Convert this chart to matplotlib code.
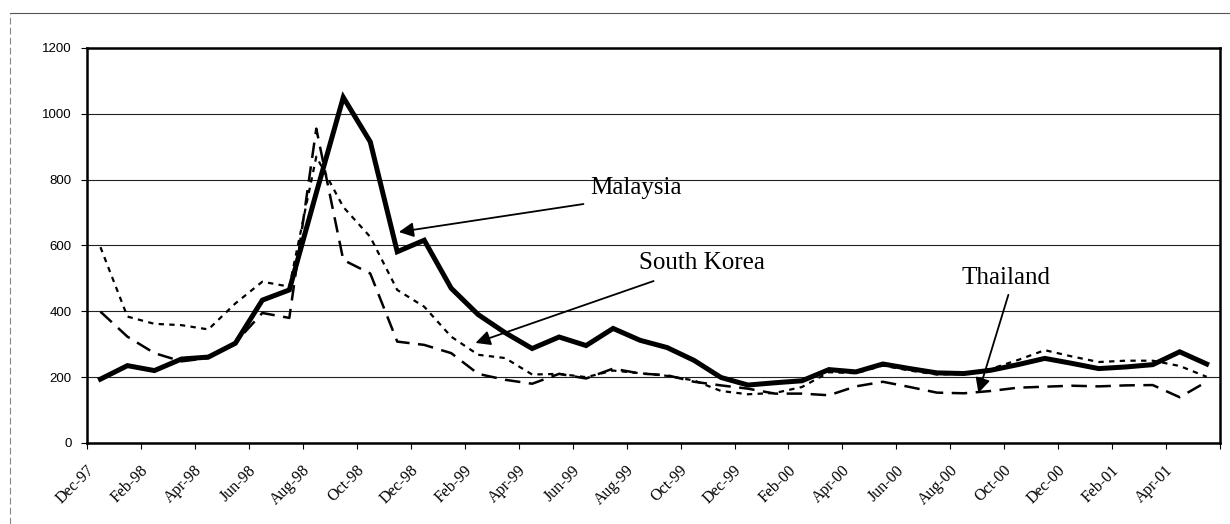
import numpy as np
import matplotlib
matplotlib.use('Agg')
import matplotlib.pyplot as plt
import matplotlib.transforms as mtransforms

# monthly series, Dec-97 .. May-01
months = ['Dec-97', 'Jan-98', 'Feb-98', 'Mar-98', 'Apr-98', 'May-98', 'Jun-98', 'Jul-98',
          'Aug-98', 'Sep-98', 'Oct-98', 'Nov-98', 'Dec-98', 'Jan-99', 'Feb-99', 'Mar-99',
          'Apr-99', 'May-99', 'Jun-99', 'Jul-99', 'Aug-99', 'Sep-99', 'Oct-99', 'Nov-99',
          'Dec-99', 'Jan-00', 'Feb-00', 'Mar-00', 'Apr-00', 'May-00', 'Jun-00', 'Jul-00',
          'Aug-00', 'Sep-00', 'Oct-00', 'Nov-00', 'Dec-00', 'Jan-01', 'Feb-01', 'Mar-01',
          'Apr-01', 'May-01']

malaysia = [194, 235, 220, 255, 261, 303, 434, 465, 760, 1050, 915, 581, 616, 470,
            390, 335, 287, 322, 296, 348, 312, 290, 251, 199, 176, 183, 189, 223,
            216, 240, 226, 213, 211, 221, 238, 257, 242, 226, 231, 238, 277, 240]

south_korea = [595, 384, 362, 358, 345, 424, 490, 475, 870, 717, 626, 465, 414, 323,
               268, 258, 208, 210, 200, 220, 212, 204, 190, 158, 148, 152, 170, 215,
               212, 235, 220, 208, 210, 225, 252, 282, 263, 246, 250, 250, 234, 201]

thailand = [399, 323, 273, 248, 258, 305, 395, 380, 955, 556, 515, 308, 298, 273,
            210, 192, 180, 210, 196, 226, 211, 206, 186, 175, 165, 150, 150, 145,
            172, 186, 170, 153, 151, 158, 168, 171, 174, 172, 175, 176, 139, 186]

x = np.arange(len(months))

fig = plt.figure(figsize=(12.3, 5.24), dpi=100)
ax = fig.add_axes([0.0707, 0.1546, 0.9213, 0.7538])

ax.plot(x, south_korea, color='black', lw=1.6, linestyle=(0, (2.4, 2.4)))
ax.plot(x, thailand, color='black', lw=1.8, linestyle=(0, (6.2, 3.4)))
ax.plot(x, malaysia, color='black', lw=3.6, solid_joinstyle='miter')

ax.set_xlim(-0.5, len(months) - 0.5)
ax.set_ylim(0, 1200)
ax.set_yticks(range(0, 1201, 200))
ax.yaxis.grid(True, color='#222222', lw=0.8)
ax.set_axisbelow(True)

# labels every second month, tick marks on category borders
ax.set_xticks(x[::2])
ax.set_xticklabels(months[::2], rotation=45, ha='right', va='top',
                   family='Liberation Serif', fontsize=11.5)
ax.set_xticks(np.arange(-0.5, len(months), 2), minor=True)
ax.tick_params(axis='x', which='major', length=0, pad=14)
ax.tick_params(axis='x', which='minor', length=4, width=0.8, direction='out')
offset = mtransforms.ScaledTranslation(-0.03, 0, fig.dpi_scale_trans)
for lab in ax.get_xticklabels():
    lab.set_transform(lab.get_transform() + offset)

ax.tick_params(axis='y', length=4, width=0.8, pad=7, labelsize=9.5)
for lab in ax.get_yticklabels():
    lab.set_family('Liberation Sans')

for sp in ax.spines.values():
    sp.set_linewidth(1.8)
    sp.set_color('black')

arrow = dict(arrowstyle='-|>', color='black', lw=1.3, mutation_scale=22,
             shrinkA=0, shrinkB=0)
ax.annotate('', xy=(11.06, 641), xytext=(17.9, 726), arrowprops=arrow)
ax.annotate('', xy=(13.9, 304), xytext=(20.5, 492), arrowprops=arrow)
ax.annotate('', xy=(32.54, 152), xytext=(33.65, 450), arrowprops=arrow)

ax.text(19.83, 775, 'Malaysia', ha='center', va='center', fontsize=18, family='Liberation Serif')
ax.text(22.31, 547, 'South Korea', ha='center', va='center', fontsize=18, family='Liberation Serif')
ax.text(33.57, 501, 'Thailand', ha='center', va='center', fontsize=18, family='Liberation Serif')

# thin border of the scanned page
fig.add_artist(plt.Line2D([0.008, 1.0], [0.975, 0.975], color='#555555', lw=0.8,
                          transform=fig.transFigure))
fig.add_artist(plt.Line2D([0.008, 0.008], [0.0, 0.975], color='#888888', lw=0.8,
                          linestyle=(0, (6, 3)), transform=fig.transFigure))

fig.savefig('out.png', dpi=100)
